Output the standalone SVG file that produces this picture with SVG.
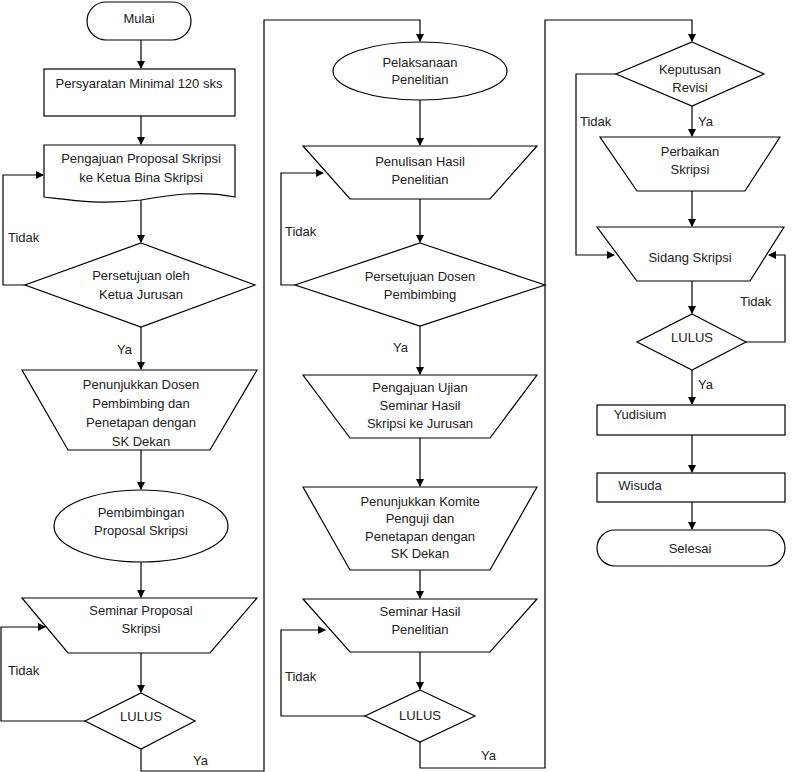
<svg xmlns="http://www.w3.org/2000/svg" width="800" height="772" viewBox="0 0 800 772">
<style>
.s{fill:#fff;stroke:#000;stroke-width:1.2}
text{font-family:"Liberation Sans",Arial,sans-serif;font-size:13px;fill:#222;text-anchor:middle}
.l{text-anchor:start}
.c{fill:none;stroke:#000;stroke-width:1.2}
</style>
<defs><marker id="a" markerWidth="8" markerHeight="8" refX="7" refY="4" orient="auto" markerUnits="userSpaceOnUse"><path d="M0,0L8,4L0,8z" fill="#000"/></marker></defs>
<rect width="800" height="772" fill="#fff"/>
<g id="connectors" class="c">
<path class="c" d="M141,40V68" marker-end="url(#a)"/>
<path class="c" d="M141,116V144" marker-end="url(#a)"/>
<path class="c" d="M141,200V242" marker-end="url(#a)"/>
<path class="c" d="M25,285H3V175H43" marker-end="url(#a)"/>
<path class="c" d="M141,327V369" marker-end="url(#a)"/>
<path class="c" d="M141,450V489" marker-end="url(#a)"/>
<path class="c" d="M141,562V597" marker-end="url(#a)"/>
<path class="c" d="M141,653V692" marker-end="url(#a)"/>
<path class="c" d="M85,721H1V627H45" marker-end="url(#a)"/>
<path class="c" d="M141,749V771H264V20H420V41" marker-end="url(#a)"/>
<path class="c" d="M420,100V145" marker-end="url(#a)"/>
<path class="c" d="M420,199V242" marker-end="url(#a)"/>
<path class="c" d="M295,285H281V173H323" marker-end="url(#a)"/>
<path class="c" d="M420,326V374" marker-end="url(#a)"/>
<path class="c" d="M420,438V486" marker-end="url(#a)"/>
<path class="c" d="M420,570V598" marker-end="url(#a)"/>
<path class="c" d="M420,652V689" marker-end="url(#a)"/>
<path class="c" d="M365,716H281V630H325" marker-end="url(#a)"/>
<path class="c" d="M420,742V768H545V20H692V41" marker-end="url(#a)"/>
<path class="c" d="M616,74H576V255H614" marker-end="url(#a)"/>
<path class="c" d="M692,106V136" marker-end="url(#a)"/>
<path class="c" d="M692,191V226" marker-end="url(#a)"/>
<path class="c" d="M692,281V313" marker-end="url(#a)"/>
<path class="c" d="M746,342H785V255H769" marker-end="url(#a)"/>
<path class="c" d="M692,370V404" marker-end="url(#a)"/>
<path class="c" d="M692,435V472" marker-end="url(#a)"/>
<path class="c" d="M692,502V529" marker-end="url(#a)"/>
</g>
<g id="labels">
<text class="l" x="8" y="242">Tidak</text>
<text class="l" x="117" y="354">Ya</text>
<text class="l" x="8" y="675">Tidak</text>
<text class="l" x="193" y="765">Ya</text>
<text class="l" x="285" y="236">Tidak</text>
<text class="l" x="393" y="352">Ya</text>
<text class="l" x="285" y="681">Tidak</text>
<text class="l" x="481" y="760">Ya</text>
<text class="l" x="580" y="126">Tidak</text>
<text class="l" x="698" y="126">Ya</text>
<text class="l" x="740" y="306">Tidak</text>
<text class="l" x="698" y="389">Ya</text>
</g>
<g id="mulai"><rect class="s" x="87" y="2" width="104" height="38" rx="19"/><text x="139" y="23">Mulai</text></g>
<g id="syarat"><rect class="s" x="44" y="69" width="191" height="47"/><text x="139" y="88">Persyaratan Minimal 120 sks</text></g>
<g id="pengajuan"><path class="s" d="M44,145H235V197C200,190 170,195 141,200C100,205 70,200 44,197Z"/><text x="141" y="163">Pengajuan Proposal Skripsi</text><text x="141" y="182">ke Ketua Bina Skripsi</text></g>
<g id="setuju1"><path class="s" d="M141,243L255,285L141,327L25,285Z"/><text x="141" y="280">Persetujuan oleh</text><text x="141" y="299">Ketua Jurusan</text></g>
<g id="penunjukkan"><path class="s" d="M22,370H257L210,450H68Z"/><text x="141" y="389">Penunjukkan Dosen</text><text x="141" y="408">Pembimbing dan</text><text x="141" y="427">Penetapan dengan</text><text x="141" y="446">SK Dekan</text></g>
<g id="bimbing"><ellipse class="s" cx="141" cy="526" rx="87" ry="36"/><text x="141" y="517">Pembimbingan</text><text x="141" y="535">Proposal Skripsi</text></g>
<g id="seminar1"><path class="s" d="M22,598H257L210,653H68Z"/><text x="141" y="615">Seminar Proposal</text><text x="141" y="633">Skripsi</text></g>
<g id="lulus1"><path class="s" d="M141,693L195,721L141,749L85,721Z"/><text x="141" y="721">LULUS</text></g>
<g id="pelaksanaan"><ellipse class="s" cx="420" cy="71" rx="87" ry="29"/><text x="420" y="67">Pelaksanaan</text><text x="420" y="84">Penelitian</text></g>
<g id="penulisan"><path class="s" d="M303,146H537L490,199H350Z"/><text x="420" y="166">Penulisan Hasil</text><text x="420" y="184">Penelitian</text></g>
<g id="setuju2"><path class="s" d="M420,243L545,285L420,326L295,285Z"/><text x="420" y="281">Persetujuan Dosen</text><text x="420" y="299">Pembimbing</text></g>
<g id="ujian"><path class="s" d="M303,375H537L490,438H350Z"/><text x="420" y="392">Pengajuan Ujian</text><text x="420" y="410">Seminar Hasil</text><text x="420" y="428">Skripsi ke Jurusan</text></g>
<g id="komite"><path class="s" d="M303,487H537L490,570H350Z"/><text x="420" y="506">Penunjukkan Komite</text><text x="420" y="523">Penguji dan</text><text x="420" y="541">Penetapan dengan</text><text x="420" y="558">SK Dekan</text></g>
<g id="seminar2"><path class="s" d="M303,599H537L490,652H350Z"/><text x="420" y="616">Seminar Hasil</text><text x="420" y="634">Penelitian</text></g>
<g id="lulus2"><path class="s" d="M420,690L475,716L420,742L365,716Z"/><text x="420" y="720">LULUS</text></g>
<g id="keputusan"><path class="s" d="M692,42L764,74L692,106L616,74Z"/><text x="690" y="74">Keputusan</text><text x="690" y="92">Revisi</text></g>
<g id="perbaikan"><path class="s" d="M600,137H780L745,191H637Z"/><text x="690" y="156">Perbaikan</text><text x="690" y="174">Skripsi</text></g>
<g id="sidang"><path class="s" d="M597,227H784L750,281H637Z"/><text x="690" y="262">Sidang Skripsi</text></g>
<g id="lulus3"><path class="s" d="M692,314L746,342L692,370L637,342Z"/><text x="692" y="342">LULUS</text></g>
<g id="yudisium"><rect class="s" x="597" y="405" width="188" height="30"/><text x="640" y="419">Yudisium</text></g>
<g id="wisuda"><rect class="s" x="597" y="473" width="188" height="29"/><text x="640" y="490">Wisuda</text></g>
<g id="selesai"><rect class="s" x="597" y="530" width="188" height="36" rx="18"/><text x="690" y="553">Selesai</text></g>
</svg>
